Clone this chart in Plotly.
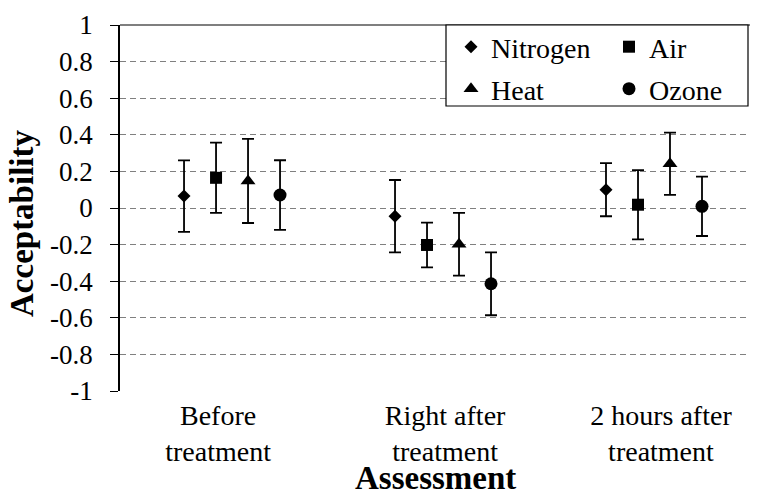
import plotly.graph_objects as go

# ---- data ----
categories = ["Before treatment", "Right after treatment", "2 hours after treatment"]
category_labels = ["Before<br>treatment", "Right after<br>treatment", "2 hours after<br>treatment"]
series_names = ["Nitrogen", "Air", "Heat", "Ozone"]

nitrogen = [0.065, -0.045, 0.100]
nitrogen_err = [0.195, 0.198, 0.145]
air = [0.165, -0.202, 0.018]
air_err = [0.192, 0.122, 0.189]
heat = [0.148, -0.198, 0.242]
heat_err = [0.230, 0.171, 0.170]
ozone = [0.071, -0.414, 0.009]
ozone_err = [0.190, 0.172, 0.162]

y_tickvals = [1, 0.8, 0.6, 0.4, 0.2, 0, -0.2, -0.4, -0.6, -0.8, -1]
y_ticktext = ["1", "0.8", "0.6", "0.4", "0.2", "0", "-0.2", "-0.4", "-0.6", "-0.8", "-1"]

# ---- style ----
FONT = "Liberation Serif"
PAGE_MARGIN = 8                      # default <body> margin of the html page
W, H = 758 - PAGE_MARGIN, 493 - PAGE_MARGIN
# plot area on screen: x 120..750, y 25..391
PL, PR, PT, PB = 120, 750, 25, 391
ML = PL - PAGE_MARGIN
MT = PT - PAGE_MARGIN
MR = W - (PR - PAGE_MARGIN)
MB = H - (PB - PAGE_MARGIN)

offsets = [-0.2275, -0.0758, 0.0758, 0.2275]
symbols = ["diamond", "square", "triangle-up", "circle"]
sizes = [10, 12, 13, 13]
label_pos = [-0.066, 1.01, 2.033]
legend_ids = ["legend", "legend2", "legend3", "legend4"]
legend_px = [(451, 47), (609, 47), (451, 89), (609, 89)]

values = [nitrogen, air, heat, ozone]
errors = [nitrogen_err, air_err, heat_err, ozone_err]

fig = go.Figure()
for name, vals, errs, off, sym, sz, lg in zip(series_names, values, errors, offsets, symbols, sizes, legend_ids):
    fig.add_trace(go.Scatter(
        x=[i + off for i in range(len(categories))],
        y=vals,
        mode="markers",
        name=name,
        legend=lg,
        marker=dict(symbol=sym, size=sz, color="black", line=dict(width=0)),
        error_y=dict(type="data", array=errs, visible=True, color="black",
                     thickness=1.8, width=6),
        hovertext=categories,
    ))

pw = PR - PL
ph = PB - PT

def px_x(p):
    return (p - PL) / pw

def px_y(p):
    return (PB - p) / ph

legend_layout = {}
for lg, (lx, ly) in zip(legend_ids, legend_px):
    legend_layout[lg] = dict(orientation="h", xanchor="left", yanchor="middle",
                             x=px_x(lx), y=px_y(ly),
                             bgcolor="rgba(0,0,0,0)", borderwidth=0,
                             font=dict(size=28, family=FONT, color="black"),
                             itemwidth=30)

fig.update_layout(
    width=W, height=H,
    margin=dict(l=ML, r=MR, t=MT, b=MB, autoexpand=False),
    paper_bgcolor="white", plot_bgcolor="white",
    font=dict(family=FONT, color="black", size=27),
    showlegend=True,
    **legend_layout,
    xaxis=dict(range=[-0.531, 2.455], showgrid=False, zeroline=False, showline=False,
               tickmode="array", tickvals=label_pos, ticktext=category_labels,
               ticks="", ticklen=0, ticklabelstandoff=5,
               tickfont=dict(size=28, family=FONT, color="black"),
               fixedrange=True),
    yaxis=dict(range=[-1, 1], tickmode="array", tickvals=y_tickvals, ticktext=y_ticktext,
               showgrid=True, gridcolor="#808080", gridwidth=1.3, griddash="6px,4px",
               zeroline=False, showline=True, linecolor="black", linewidth=1.5,
               ticks="outside", ticklen=8, tickwidth=1.3, tickcolor="black",
               ticklabelstandoff=12,
               tickfont=dict(size=27, family=FONT, color="black"), fixedrange=True),
    shapes=[
        dict(type="line", xref="paper", yref="paper", x0=0, x1=1, y0=1, y1=1,
             line=dict(color="black", width=1.2), layer="above"),
        dict(type="rect", xref="paper", yref="paper",
             x0=px_x(446), x1=px_x(748), y0=px_y(106), y1=1,
             fillcolor="white", line=dict(color="black", width=1.2), layer="above"),
    ],
    annotations=[
        dict(text="<b>Acceptability</b>", xref="paper", yref="paper",
             x=px_x(22), y=px_y(224), xanchor="center", yanchor="middle",
             textangle=-90, showarrow=False, font=dict(size=33, family=FONT, color="black")),
        dict(text="<b>Assessment</b>", xref="paper", yref="paper",
             x=px_x(435), y=px_y(478), xanchor="center", yanchor="middle",
             showarrow=False, font=dict(size=33, family=FONT, color="black")),
    ],
)

fig.write_html("out.html")
